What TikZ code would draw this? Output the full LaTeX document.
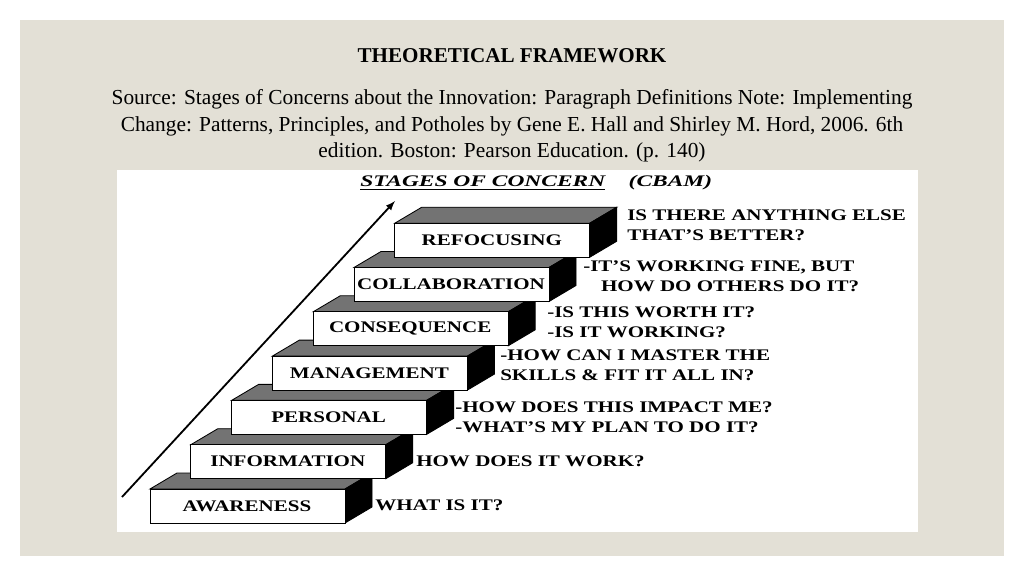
\documentclass[tikz,border=0pt]{standalone}
\usepackage{fontspec}
\setmainfont{Liberation Serif}
\usepackage{tikz}
\usepackage{graphicx}
\newcommand{\widetext}[2][1.3]{\scalebox{#1}[1]{#2}}
\definecolor{panelbg}{HTML}{E3E0D6}

\begin{document}
\begin{tikzpicture}[x=0.025cm,y=-0.025cm,
    stepfront/.style={draw=black,fill=white,line width=0.6pt},
    steptop/.style={draw=black,fill=black!55,line width=0.6pt},
    stepside/.style={draw=black,fill=black,line width=0.6pt},
    steplabel/.style={font=\bfseries\fontsize{11.5}{11.5}\selectfont},
    note/.style={font=\bfseries\fontsize{11.5}{14}\selectfont,anchor=west,align=left,inner sep=0pt}]
    \fill[white] (0,0) rectangle (1024,576);
    \fill[panelbg] (20,20) rectangle (1004,556);
    \fill[white] (117,170) rectangle (918,532);

    \node[font=\bfseries\fontsize{15}{15}\selectfont] (title) at (512,56) {THEORETICAL FRAMEWORK};
    \node[font=\fontsize{15.2}{19}\selectfont,align=center] (source) at (512,126)
        {Source: Stages of Concerns about the Innovation: Paragraph Definitions Note: Implementing\\
         Change: Patterns, Principles, and Potholes by Gene E. Hall and Shirley M. Hord, 2006. 6th\\
         edition. Boston: Pearson Education. (p. 140)};

    \node[font=\bfseries\itshape\fontsize{11.5}{11.5}\selectfont,anchor=west,inner sep=0pt] (heading) at (360,183)
        {\widetext[1.45]{\underline{STAGES OF CONCERN}\quad(CBAM)}};

    % the stairs
    \foreach \name [count=\i from 0] in {AWARENESS,INFORMATION,PERSONAL,MANAGEMENT,CONSEQUENCE,COLLABORATION,REFOCUSING} {
        \pgfmathsetmacro{\xl}{150+40.8*\i}
        \pgfmathsetmacro{\yt}{489-44.3*\i}
        \fill[steptop] (\xl,\yt) -- ++(27,-16) -- ++(195,0) -- ++(-27,16) -- cycle;
        \fill[stepside] (\xl+195,\yt) -- ++(27,-16) -- ++(0,34) -- ++(-27,16) -- cycle;
        \draw[stepfront] (\xl,\yt) rectangle ++(195,34);
        \node[steplabel] (s\i) at (\xl+97,\yt+17) {\widetext[1.3]{\name}};
    }

    \coordinate (arrowstart) at (122,497);
    \coordinate (arrowend) at (395,201);
    \draw[-latex,line width=1.3pt] (arrowstart) -- (arrowend);

    \node[note] (n0) at (375,505) {\widetext{WHAT IS IT?}};
    \node[note] (n1) at (416,461) {\widetext{HOW DOES IT WORK?}};
    \node[note] (n2) at (455,417) {\widetext{-HOW DOES THIS IMPACT ME?}\\\widetext{-WHAT'S MY PLAN TO DO IT?}};
    \node[note] (n3) at (500,365) {\widetext{-HOW CAN I MASTER THE}\\\widetext{SKILLS \& FIT IT ALL IN?}};
    \node[note] (n4) at (547,322) {\widetext{-IS THIS WORTH IT?}\\\widetext{-IS IT WORKING?}};
    \node[note] (n5) at (583,276) {\widetext{-IT'S WORKING FINE, BUT}\\\hspace*{1.1em}\widetext{HOW DO OTHERS DO IT?}};
    \node[note] (n6) at (627,225) {\widetext{IS THERE ANYTHING ELSE}\\\widetext{THAT'S BETTER?}};
\end{tikzpicture}
\end{document}
